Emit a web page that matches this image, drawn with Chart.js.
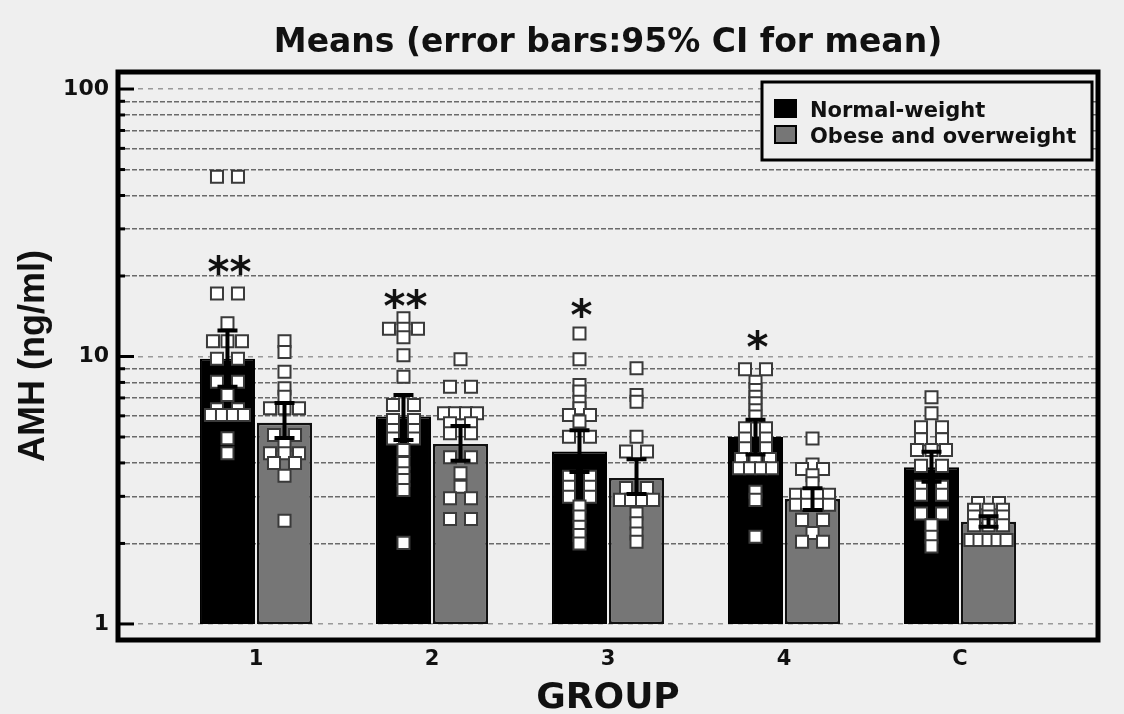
<!DOCTYPE html>
<html><head><meta charset="utf-8">
<script src="https://cdn.jsdelivr.net/npm/chart.js@4.4.1/dist/chart.umd.min.js"></script>
<style>html,body{margin:0;padding:0;background:#efefef;}canvas{display:block;}</style>
</head><body>
<canvas id="c" width="1124" height="714"></canvas>
<script>
// ---------- data ----------
const groups = ['1', '2', '3', '4', 'C'];
const seriesNames = ['Normal-weight', 'Obese and overweight'];
const meanNormal = [9.8, 5.96, 4.41, 5.0, 3.85];
const meanObese = [5.65, 4.71, 3.51, 2.93, 2.41];
const ciNormalLow = [7.7, 4.87, 3.7, 4.3, 3.4];
const ciNormalHigh = [12.5, 7.18, 5.3, 5.8, 4.4];
const ciObeseLow = [4.96, 4.08, 3.06, 2.67, 2.31];
const ciObeseHigh = [6.7, 5.5, 4.13, 3.22, 2.53];
const sigMarks = ['**', '**', '*', '*', ''];
const sigLevel = [22.4, 16.7, 15.4, 11.7, null];
const yTicks = [1, 2, 3, 4, 5, 6, 7, 8, 9, 10, 20, 30, 40, 50, 60, 70, 80, 90, 100];
const yLabelled = [1, 10, 100];

const obsNormal1 = [47, 47, 17.2, 17.2, 13.3, 11.4, 11.4, 11.4, 9.8, 9.8, 8.05, 8.05, 7.18, 6.35, 6.35, 6.04, 6.04, 6.04, 6.04, 4.95, 4.35];
const obsNormal2 = [13.9, 12.7, 12.7, 12.7, 11.8, 10.1, 8.4, 6.59, 6.59, 5.79, 5.79, 5.31, 5.31, 4.94, 4.94, 4.47, 4.0, 3.66, 3.45, 3.17, 2.01];
const obsNormal3 = [12.2, 9.76, 7.83, 7.39, 6.78, 6.4, 6.04, 6.04, 5.71, 5.01, 5.01, 3.55, 3.55, 3.26, 3.26, 2.99, 2.99, 2.75, 2.52, 2.31, 2.15, 2.0];
const obsNormal4 = [8.96, 8.96, 8.05, 7.5, 7.07, 6.69, 6.3, 5.96, 5.39, 5.39, 4.94, 4.94, 4.54, 4.54, 4.14, 4.14, 4.14, 3.82, 3.82, 3.82, 3.82, 3.12, 2.91, 2.12];
const obsNormalC = [7.04, 6.13, 5.44, 5.44, 4.9, 4.9, 4.47, 4.47, 4.47, 3.9, 3.9, 3.26, 3.26, 3.04, 3.04, 2.59, 2.59, 2.34, 2.12, 1.95];

const obsObese1 = [11.4, 10.4, 8.77, 7.6, 7.07, 6.4, 6.4, 6.4, 5.09, 5.09, 4.67, 4.35, 4.35, 4.35, 4.0, 4.0, 3.58, 2.43];
const obsObese2 = [9.76, 7.71, 7.71, 6.13, 6.13, 6.13, 6.13, 5.63, 5.63, 5.16, 5.16, 4.2, 4.2, 3.66, 3.26, 2.95, 2.95, 2.47, 2.47];
const obsObese3 = [9.03, 7.18, 6.78, 5.01, 4.41, 4.41, 3.22, 3.22, 2.91, 2.91, 2.91, 2.91, 2.59, 2.38, 2.18, 2.03];
const obsObese4 = [4.94, 3.95, 3.8, 3.8, 3.6, 3.36, 3.04, 3.04, 3.04, 3.04, 2.79, 2.79, 2.79, 2.79, 2.45, 2.45, 2.19, 2.03, 2.03];
const obsObeseC = [2.83, 2.83, 2.67, 2.67, 2.67, 2.52, 2.52, 2.52, 2.34, 2.34, 2.34, 2.06, 2.06, 2.06, 2.06, 2.06];

const obsNormal = [obsNormal1, obsNormal2, obsNormal3, obsNormal4, obsNormalC];
const obsObese = [obsObese1, obsObese2, obsObese3, obsObese4, obsObeseC];

// ---------- layout constants ----------
const CP = 0.648, BP = 0.965;
const X_MIN = 0.216, X_MAX = 5.784, Y_MIN = 0.871, Y_MAX = 115.8;
const PX = (X_MAX - X_MIN) / 980; // axis units per pixel

function swarm(values, center) {
  const rows = new Map();
  values.forEach(v => rows.set(v, (rows.get(v) || 0) + 1));
  const pts = [];
  rows.forEach((n, v) => {
    const sp = n === 2 ? 21 : n === 3 ? 14.5 : n === 4 ? 11 : 9;
    for (let i = 0; i < n; i++) pts.push({ x: center + (i - (n - 1) / 2) * sp * PX, y: v });
  });
  return pts;
}

const barNormal = groups.map((g, i) => ({ x: i + 1, y: [1, meanNormal[i]] }));
const barObese = groups.map((g, i) => ({ x: i + 1, y: [1, meanObese[i]] }));
const ptsNormal = [].concat(...obsNormal.map((vals, i) => swarm(vals, i + 1 - CP / 4)));
const ptsObese = [].concat(...obsObese.map((vals, i) => swarm(vals, i + 1 + CP / 4)));

const isMajor = v => yLabelled.includes(v);

const decor = {
  id: 'decor',
  afterDatasetsDraw(chart) {
    const ctx = chart.ctx, ys = chart.scales.y;
    [[0, ciNormalLow, ciNormalHigh], [1, ciObeseLow, ciObeseHigh]].forEach(([di, lo, hi]) => {
      const meta = chart.getDatasetMeta(di);
      meta.data.forEach((bar, j) => {
        const x = bar.x, yl = ys.getPixelForValue(lo[j]), yh = ys.getPixelForValue(hi[j]);
        ctx.save();
        ctx.strokeStyle = '#000'; ctx.lineWidth = 4; ctx.lineCap = 'butt';
        ctx.beginPath();
        ctx.moveTo(x, yl); ctx.lineTo(x, yh);
        ctx.moveTo(x - 10, yh); ctx.lineTo(x + 10, yh);
        ctx.moveTo(x - 10, yl); ctx.lineTo(x + 10, yl);
        ctx.stroke();
        ctx.restore();
      });
    });
    const m0 = chart.getDatasetMeta(0);
    ctx.save();
    ctx.font = 'bold 42px "DejaVu Sans"';
    ctx.textAlign = 'center'; ctx.textBaseline = 'alphabetic'; ctx.fillStyle = '#111';
    sigMarks.forEach((s, j) => {
      if (!s) return;
      const py = ys.getPixelForValue(sigLevel[j]);
      ctx.fillText(s, m0.data[j].x + 2, py + 0.57 * 42);
    });
    ctx.restore();
  },
  afterDraw(chart) {
    const ctx = chart.ctx, a = chart.chartArea, ys = chart.scales.y;
    ctx.save();
    ctx.strokeStyle = '#000'; ctx.lineWidth = 3;
    yTicks.forEach(v => {
      const py = ys.getPixelForValue(v);
      const L = isMajor(v) ? 16 : 7;
      ctx.beginPath(); ctx.moveTo(a.left, py); ctx.lineTo(a.left + L, py); ctx.stroke();
    });
    ctx.lineWidth = 5;
    ctx.strokeRect(a.left, a.top, a.right - a.left, a.bottom - a.top);
    // legend box
    const bw = 330, bh = 78, bx = a.right - 336, by = a.top + 10;
    ctx.fillStyle = '#efefef'; ctx.fillRect(bx, by, bw, bh);
    ctx.lineWidth = 3; ctx.strokeStyle = '#000'; ctx.strokeRect(bx, by, bw, bh);
    const ds = chart.data.datasets;
    ctx.font = 'bold 21px "DejaVu Sans"';
    ctx.textAlign = 'left'; ctx.textBaseline = 'alphabetic'; ctx.fillStyle = '#111';
    [0, 1].forEach(i => {
      const sy = by + 18 + i * 26;
      ctx.fillStyle = ds[i].backgroundColor;
      ctx.fillRect(bx + 13, sy, 21, 17);
      ctx.lineWidth = 2; ctx.strokeStyle = '#000';
      ctx.strokeRect(bx + 13, sy, 21, 17);
      ctx.fillStyle = '#111';
      ctx.fillText(ds[i].label, bx + 48, sy + 17);
    });
    ctx.restore();
  }
};

new Chart(document.getElementById('c'), {
  type: 'bar',
  data: {
    datasets: [
      { type: 'bar', label: seriesNames[0], data: barNormal, backgroundColor: '#000000', borderColor: '#000000',
        borderWidth: 2, borderSkipped: false, categoryPercentage: CP, barPercentage: BP, order: 3 },
      { type: 'bar', label: seriesNames[1], data: barObese, backgroundColor: '#767676', borderColor: '#111111',
        borderWidth: 2.5, borderSkipped: false, categoryPercentage: CP, barPercentage: BP, order: 3 },
      { type: 'scatter', label: seriesNames[0] + ' data', data: ptsNormal, pointStyle: 'rect', pointRadius: 8.5,
        pointHoverRadius: 8.5, backgroundColor: '#ffffff', borderColor: '#3a3a3a', borderWidth: 2, order: 1 },
      { type: 'scatter', label: seriesNames[1] + ' data', data: ptsObese, pointStyle: 'rect', pointRadius: 8.5,
        pointHoverRadius: 8.5, backgroundColor: '#ffffff', borderColor: '#3a3a3a', borderWidth: 2, order: 1 }
    ]
  },
  options: {
    responsive: false, animation: false, events: [],
    layout: { padding: { left: 0, right: 26, top: 0, bottom: 0 } },
    plugins: {
      legend: { display: false },
      tooltip: { enabled: false },
      title: {
        display: true, text: 'Means (error bars:95% CI for mean)', fullSize: false,
        color: '#111', font: { family: 'DejaVu Sans', weight: 'bold', size: 33, lineHeight: 1.2 },
        padding: { top: 24, bottom: 8.4 }
      }
    },
    scales: {
      x: {
        type: 'linear', min: X_MIN, max: X_MAX, offset: false,
        afterBuildTicks: s => { s.ticks = groups.map((g, i) => ({ value: i + 1 })); },
        afterFit: s => { s.height = 74; },
        grid: { display: false, drawTicks: false },
        border: { display: false },
        ticks: { callback: v => groups[Math.round(v) - 1] || '', padding: 7, maxRotation: 0, autoSkip: false,
          color: '#111', font: { family: 'DejaVu Sans', weight: 'bold', size: 21 } },
        title: { display: true, text: 'GROUP', color: '#111',
          font: { family: 'DejaVu Sans', weight: 'bold', size: 36, lineHeight: 1 }, padding: { top: 0, bottom: -3 } }
      },
      y: {
        type: 'logarithmic', min: Y_MIN, max: Y_MAX,
        afterBuildTicks: s => { s.ticks = yTicks.map(v => ({ value: v, major: isMajor(v) })); },
        afterFit: s => { s.width = 118; },
        grid: {
          drawTicks: false, lineWidth: 1.5,
          color: c => isMajor(c.tick && c.tick.value) ? '#9a9a9a' : '#6a6a6a'
        },
        border: { display: false, dash: c => isMajor(c.tick && c.tick.value) ? [5, 5] : [5, 2] },
        ticks: { autoSkip: false, padding: 9, callback: v => isMajor(v) ? String(v) : '',
          color: '#111', font: { family: 'DejaVu Sans', weight: 'bold', size: 22 } },
        title: { display: true, text: 'AMH (ng/ml)', color: '#111',
          font: { family: 'Liberation Sans', weight: 'bold', size: 36, lineHeight: 1 }, padding: { top: 16.5, bottom: 0 } }
      }
    }
  },
  plugins: [decor]
});
</script>
</body></html>
